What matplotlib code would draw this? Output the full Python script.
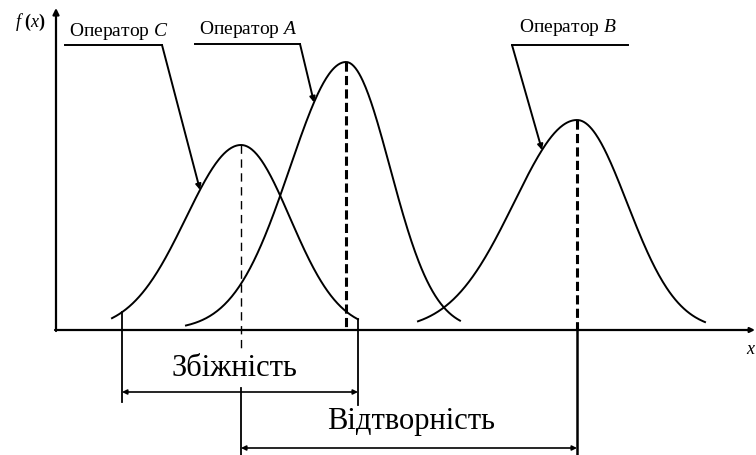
import numpy as np
import matplotlib
matplotlib.use("Agg")
import matplotlib.pyplot as plt

plt.rcParams['font.family'] = ['Liberation Serif', 'DejaVu Serif']
plt.rcParams['mathtext.fontset'] = 'custom'
plt.rcParams['mathtext.it'] = 'Liberation Serif:italic'
plt.rcParams['mathtext.rm'] = 'Liberation Serif'

# operators: C, A, B  (schematic normal densities)
operators = ['C', 'A', 'B']
means = [185, 290, 521]
peaks = [185, 268, 210]
sigma_left = [55, 56, 63]
sigma_right = [49, 44, 50]
x_from = [56, 130, 362]
x_to = [302, 404, 649]

# label text positions, underline spans and arrow target x
label_x = [13, 143, 463]
label_y = [299, 301, 303]
under_x0 = [9, 139, 456]
under_x1 = [106, 244, 572]
under_y = [285, 286, 285]
leader_from = [106, 244, 456]
leader_to = [144, 258, 486]

conv_text = 'Збіжність'
repr_text = 'Відтворність'


def density(x, i):
    s = np.where(x < means[i], sigma_left[i], sigma_right[i])
    return peaks[i] * np.exp(-(x - means[i]) ** 2 / (2 * s ** 2))


fig = plt.figure(figsize=(7.56, 4.55), dpi=100, facecolor='white')
ax = fig.add_axes([0, 0, 1, 1])
ax.set_xlim(-56, 700)
ax.set_ylim(-125, 330)
ax.axis('off')

# axes with arrows
ax.annotate('', xy=(0, 322), xytext=(0, -1),
            arrowprops=dict(arrowstyle='-|>', lw=1.6, color='black',
                            mutation_scale=9, shrinkA=0, shrinkB=0))
ax.annotate('', xy=(699, 0), xytext=(-1, 0),
            arrowprops=dict(arrowstyle='-|>', lw=1.6, color='black',
                            mutation_scale=7, shrinkA=0, shrinkB=0))
ax.text(-26, 308, '$f$ ($x$)', fontsize=13, ha='center', va='center',
        fontweight='bold')
ax.text(690, -19, '$x$', fontsize=13, ha='left', va='center')

# curves
for i in range(3):
    xs = np.linspace(x_from[i], x_to[i], 300)
    ax.plot(xs, density(xs, i), color='black', lw=1.4)

# mean lines
ax.plot([means[0], means[0]], [peaks[0], -22], color='black', lw=1.0,
        dashes=(6, 4))
ax.plot([means[1], means[1]], [peaks[1], 0], color='black', lw=2.2,
        dashes=(3, 1.4))
ax.plot([means[2], means[2]], [peaks[2], 0], color='black', lw=2.2,
        dashes=(3, 1.4))
ax.plot([means[0], means[0]], [-58, -125], color='black', lw=1.3)
ax.plot([means[2], means[2]], [0, -125], color='black', lw=1.8)

# labels with leaders
for i, name in enumerate(operators):
    ax.text(label_x[i], label_y[i], 'Оператор $' + name + '$', fontsize=14,
            ha='left', va='center')
    ax.plot([under_x0[i], under_x1[i]], [under_y[i], under_y[i]],
            color='black', lw=1.4)
    tip = (leader_to[i], float(density(np.array(leader_to[i]), i)))
    ax.annotate('', xy=tip, xytext=(leader_from[i], under_y[i]),
                arrowprops=dict(arrowstyle='-|>', lw=1.4, color='black',
                                mutation_scale=8, shrinkA=0, shrinkB=0))

# convergence (Збіжність) dimension
c_left = 66
c_right = x_to[0]
ax.plot([c_left, c_left], [float(density(np.array(c_left), 0)), -72],
        color='black', lw=1.3)
ax.plot([c_right, c_right], [float(density(np.array(c_right), 0)), -75],
        color='black', lw=1.3)
ax.annotate('', xy=(c_right, -62), xytext=(c_left, -62),
            arrowprops=dict(arrowstyle='<|-|>', lw=1.2, color='black',
                            mutation_scale=7, shrinkA=0, shrinkB=0))
ax.text((c_left + c_right) / 2 - 6, -38, conv_text, fontsize=22,
        ha='center', va='center')

# reproducibility (Відтворність) dimension
ax.annotate('', xy=(means[2], -118), xytext=(means[0], -118),
            arrowprops=dict(arrowstyle='<|-|>', lw=1.2, color='black',
                            mutation_scale=7, shrinkA=0, shrinkB=0))
ax.text(355, -92, repr_text, fontsize=22, ha='center', va='center')

fig.savefig('out.png', dpi=100, facecolor='white')
